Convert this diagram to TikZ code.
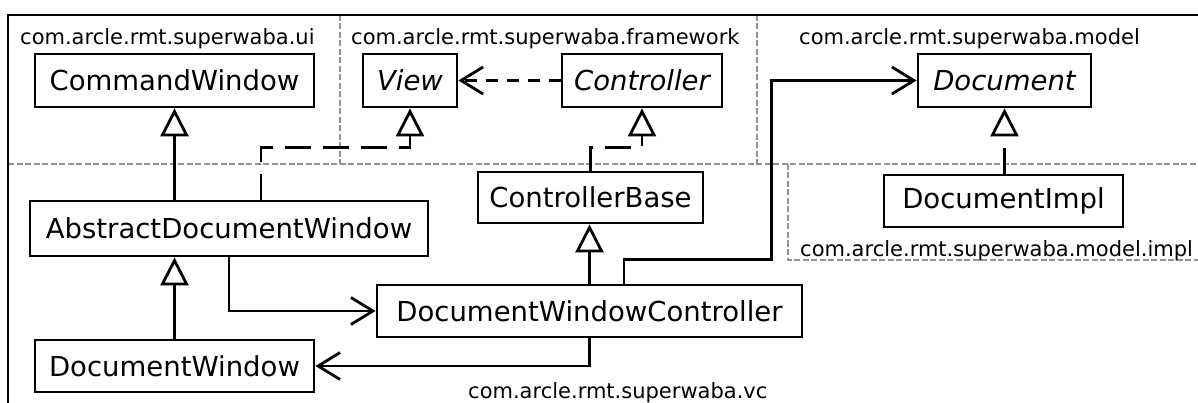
\documentclass[tikz,border=0pt]{standalone}
\usepackage{fontspec}
\setmainfont{DejaVu Sans}
\usetikzlibrary{arrows.meta,calc}
\begin{document}
\begin{tikzpicture}[x=1pt,y=-1pt,
  cls/.style={draw, line width=2.8pt, inner sep=0pt, font=\fontsize{27.5}{30}\selectfont},
  pkg/.style={inner sep=0pt, anchor=base west, font=\fontsize{21}{24}\selectfont},
  pkgline/.style={draw=gray!85, line width=2.2pt, dash pattern=on 6pt off 2.5pt},
  gen/.style={line width=2.8pt, -{Triangle[fill=white, length=28pt, width=28pt, line width=2.8pt]}},
  real/.style={gen, dash pattern=on 26pt off 12pt},
  assoc/.style={line width=2.8pt, -{Straight Barb[length=22pt, width=27pt, line width=2.8pt]}},
  dep/.style={assoc, dash pattern=on 12pt off 9pt}]
\useasboundingbox (0,0) rectangle (1198,403);
\clip (0,0) rectangle (1198,403);
\fill[white] (0,0) rectangle (1198,403);
% package frames
\draw[pkgline] (340,15) -- (340,164);
\draw[pkgline] (757,15) -- (757,164);
\draw[pkgline] (8,164) -- (1198,164);
\draw[pkgline] (788,164) -- (788,260) -- (1198,260);
\draw[line width=2.6pt] (8,410) -- (8,15) -- (1200,15);
% package labels
\node[pkg] (pui) at (20,44.5) {com.arcle.rmt.superwaba.ui};
\node[pkg] (pfw) at (351,44.5) {com.arcle.rmt.superwaba.framework};
\node[pkg] (pmd) at (799,44.5) {com.arcle.rmt.superwaba.model};
\node[pkg] (pmi) at (800,256) {com.arcle.rmt.superwaba.model.impl};
\node[pkg] (pvc) at (468,398) {com.arcle.rmt.superwaba.vc};
% classes
\node[cls, minimum width=279pt, minimum height=53pt] (cw) at (174.5,80.5) {CommandWindow};
\node[cls, minimum width=94pt, minimum height=53pt] (view) at (410,80.5) {\itshape View};
\node[cls, minimum width=160pt, minimum height=53pt] (ctrl) at (642,80.5) {\itshape Controller};
\node[cls, minimum width=173pt, minimum height=53pt] (doc) at (1004.5,80.5) {\itshape Document};
\node[cls, minimum width=225pt, minimum height=51pt] (cb) at (590.5,197.5) {ControllerBase};
\node[cls, minimum width=398pt, minimum height=55pt] (adw) at (229,228.5) {AbstractDocumentWindow};
\node[cls, minimum width=239pt, minimum height=52pt] (di) at (1003.5,201) {DocumentImpl};
\node[cls, minimum width=425pt, minimum height=52pt] (dwc) at (589.5,311) {DocumentWindowController};
\node[cls, minimum width=279pt, minimum height=52pt] (dw) at (174.5,366) {DocumentWindow};
% connectors
\draw[gen] (cw.south |- adw.north) -- (cw.south);
\draw[gen] (dw.north) -- (dw.north |- adw.south);
\draw[real] ($(adw.north)+(32,0)$) |- ($(view.south)+(0,39)$) -- (view.south);
\draw[dep] (ctrl.west) -- (view.east);
\draw[real] (cb.north) |- ($(ctrl.south)+(0,39)$) -- (ctrl.south);
\draw[real] (doc.south |- di.north) -- (doc.south);
\draw[gen] (dwc.north) -- (dwc.north |- cb.south);
\draw[assoc] ($(dwc.north)+(34.5,0)$) -- ++(0,-24) -| ($(doc.west)+(-145,0)$) -- (doc.west);
\draw[assoc] (adw.south) |- (dwc.west);
\draw[assoc] (dwc.south) |- (dw.east);
\end{tikzpicture}
\end{document}
